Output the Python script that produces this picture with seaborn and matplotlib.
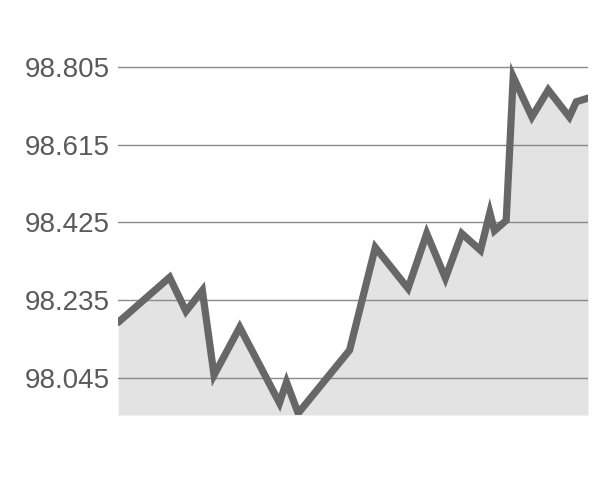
import matplotlib
matplotlib.use("Agg")
import matplotlib.pyplot as plt
import seaborn as sns
import pandas as pd

# readings (x position in days, value)
days = [0, 22, 29, 36, 41, 52, 69, 72, 77, 99, 110, 124, 132, 140,
        147, 155, 159, 161, 166, 169, 177, 184, 193, 196, 201]
values = [98.181, 98.291, 98.208, 98.259, 98.052, 98.169, 97.984, 98.035,
          97.959, 98.113, 98.364, 98.264, 98.398, 98.289, 98.398, 98.357,
          98.449, 98.405, 98.430, 98.781, 98.683, 98.749, 98.683, 98.720,
          98.729]
ticks = [98.045, 98.235, 98.425, 98.615, 98.805]

df = pd.DataFrame({"day": days, "value": values})

sns.set_style("white")
fig = plt.figure(figsize=(6, 5.01), dpi=100)
ax = fig.add_axes([0.197, 0.1717, 0.783, 0.7485])

base = 97.9546
ax.fill_between(df["day"], df["value"], base, color="#e3e3e3", lw=0, zorder=1)
for t in ticks:
    ax.axhline(t, color="#8a8a8a", lw=1.0, zorder=2)
sns.lineplot(data=df, x="day", y="value", ax=ax, color="#676767", lw=5.2,
             solid_capstyle="round", solid_joinstyle="miter", zorder=3)

ax.set_xlim(days[0], days[-1])
ax.set_ylim(base, 98.871)
ax.set_yticks(ticks)
ax.set_yticklabels([f"{t:.3f}" for t in ticks], fontsize=20, color="#5a5a5a",
                   family="Liberation Sans")
ax.tick_params(axis="y", length=0, pad=6)
ax.set_xticks([])
ax.set_xlabel("")
ax.set_ylabel("")
for s in ax.spines.values():
    s.set_visible(False)

fig.savefig("out.png", dpi=100)
